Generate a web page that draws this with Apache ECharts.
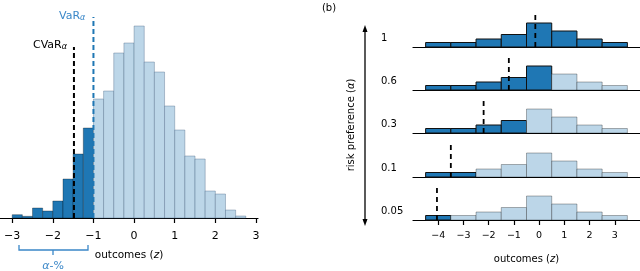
<!DOCTYPE html>
<html>
<head>
<meta charset="utf-8">
<script src="https://cdn.jsdelivr.net/npm/echarts@6/dist/echarts.min.js"></script>
<style>html,body{margin:0;padding:0;background:#fff}#c{width:640px;height:271px}</style>
</head>
<body>
<div id="c"></div>
<script>
// ---- Data (left panel: histogram of outcomes) ----
const leftBinStart = -3;
const leftBinWidth = 0.25;
const leftCounts = [3.3, 1.7, 10, 7, 17, 39, 64, 90, 119, 127, 165, 175, 192, 156, 146, 112, 88, 62, 59, 27, 24, 8, 2];
const leftVaR = -1;
const leftCVaR = -1.48;
const leftVaRHeight = 201;
const leftCVaRHeight = 171;
const leftTicks = [-3, -2, -1, 0, 1, 2, 3];

// ---- Data (right panel: risk preference rows) ----
const rightBinCenters = [-4, -3, -2, -1, 0, 1, 2, 3];
const rightCounts = [4.5, 4.5, 8, 12.5, 24, 16, 8, 4.5];
const rowLabels = ['1', '0.6', '0.3', '0.1', '0.05'];
const rowMarker = [-0.15, -1.2, -2.2, -3.5, -4.05];
const rowDarkBins = [8, 5, 4, 2, 1];
const rowMarkerHeight = 35;
const rightTicks = [-4, -3, -2, -1, 0, 1, 2, 3];

const DARK = '#1f77b4';
const LIGHT = '#bcd6e8';
const FONT = 'DejaVu Sans';
const minus = v => String(v).replace('-', '\u2212');

const chart = echarts.init(document.getElementById('c'), null, {renderer: 'canvas'});

function rectItem(darkStroke, lightStroke, lw) {
  return function (params, api) {
    const x0 = api.value(0), x1 = api.value(1), h = api.value(2), dark = api.value(3);
    const p0 = api.coord([x0, 0]);
    const p1 = api.coord([x1, h]);
    return {
      type: 'rect',
      shape: {x: p0[0], y: p1[1], width: p1[0] - p0[0], height: p0[1] - p1[1]},
      style: {fill: dark ? DARK : LIGHT, stroke: dark ? darkStroke : lightStroke, lineWidth: lw}
    };
  };
}

const grids = [{left: 0, width: 258, top: 10, height: 208}];
const xAxes = [{
  gridIndex: 0, type: 'value', min: -3.3, max: 3.05,
  axisLine: {show: true, lineStyle: {color: '#000', width: 1.2}},
  axisTick: {show: true, customValues: leftTicks, length: 5, lineStyle: {color: '#000', width: 1.2}},
  axisLabel: {customValues: leftTicks, formatter: minus, color: '#000', fontSize: 11, fontFamily: FONT, margin: 13},
  splitLine: {show: false},
  name: '{n|outcomes (}{i|z}{n|)}', nameLocation: 'middle', nameGap: 32,
  nameTextStyle: {rich: {n: {fontSize: 10.5, fontFamily: FONT, color: '#000'}, i: {fontSize: 10.5, fontFamily: FONT, fontStyle: 'italic', color: '#000'}}}
}];
const yAxes = [{gridIndex: 0, type: 'value', min: 0, max: 208, show: false}];
const series = [];

series.push({
  type: 'custom', xAxisIndex: 0, yAxisIndex: 0, z: 2,
  renderItem: rectItem('rgba(0,0,0,0.3)', 'rgba(60,90,120,0.35)', 1),
  data: leftCounts.map((c, i) => {
    const x0 = leftBinStart + i * leftBinWidth;
    const x1 = x0 + leftBinWidth;
    return [x0, x1, c, x1 <= leftVaR + 1e-9 ? 1 : 0];
  })
});
series.push({
  type: 'line', xAxisIndex: 0, yAxisIndex: 0, z: 5, symbol: 'none', silent: true,
  data: [[leftVaR, 0], [leftVaR, leftVaRHeight]],
  lineStyle: {color: '#1f77b4', width: 2, type: [5, 3]}
});
series.push({
  type: 'line', xAxisIndex: 0, yAxisIndex: 0, z: 5, symbol: 'none', silent: true,
  data: [[leftCVaR, 0], [leftCVaR, leftCVaRHeight]],
  lineStyle: {color: '#000', width: 2, type: [5, 3]}
});

const baselines = [47, 90, 133, 177, 220];
rowLabels.forEach((lab, r) => {
  const gi = r + 1;
  const last = r === rowLabels.length - 1;
  grids.push({left: 413, width: 227, top: baselines[r] - 36, height: 36});
  const ax = {
    gridIndex: gi, type: 'value', min: -5, max: 4,
    axisLine: {show: true, lineStyle: {color: '#000', width: 1.2}},
    axisTick: {show: last, customValues: rightTicks, length: 5, lineStyle: {color: '#000', width: 1.2}},
    axisLabel: {show: last, customValues: rightTicks, formatter: minus, color: '#000', fontSize: 9.5, fontFamily: FONT, margin: 11},
    splitLine: {show: false}
  };
  if (last) {
    ax.name = '{n|outcomes (}{i|z}{n|)}';
    ax.nameLocation = 'middle';
    ax.nameGap = 34;
    ax.nameTextStyle = {rich: {n: {fontSize: 10, fontFamily: FONT, color: '#000'}, i: {fontSize: 10, fontFamily: FONT, fontStyle: 'italic', color: '#000'}}};
  }
  xAxes.push(ax);
  yAxes.push({gridIndex: gi, type: 'value', min: 0, max: 36, show: false});
  series.push({
    type: 'custom', xAxisIndex: gi, yAxisIndex: gi, z: 2,
    renderItem: rectItem('#111', 'rgba(0,0,0,0.3)', 1),
    data: rightBinCenters.map((c, i) => [c - 0.5, c + 0.5, rightCounts[i], i < rowDarkBins[r] ? 1 : 0])
  });
  series.push({
    type: 'line', xAxisIndex: gi, yAxisIndex: gi, z: 5, symbol: 'none', silent: true,
    data: [[rowMarker[r], 0], [rowMarker[r], rowMarkerHeight]],
    lineStyle: {color: '#000', width: 1.8, type: [5, 4]}
  });
});

const subRich = (color) => ({
  a: {fontSize: 11, fontFamily: FONT, fill: color, verticalAlign: 'bottom', lineHeight: 14},
  s: {fontSize: 8, fontFamily: FONT, fontStyle: 'italic', fill: color, verticalAlign: 'bottom', lineHeight: 10, padding: [0, 0, 0, 0]}
});

const graphic = [
  // VaR / CVaR labels
  {type: 'text', left: 59, top: 11, style: {text: '{a|VaR}{s|α}', rich: subRich('#3a87c8')}},
  {type: 'text', left: 33, top: 40, style: {text: '{a|CVaR}{s|α}', rich: subRich('#000')}},
  // alpha-% bracket
  {type: 'polyline', shape: {points: [[19, 245], [19, 250], [88, 250], [88, 245]]}, style: {stroke: '#3a87c8', lineWidth: 1.3, fill: null}},
  {type: 'line', shape: {x1: 53, y1: 250, x2: 53, y2: 255}, style: {stroke: '#3a87c8', lineWidth: 1.3}},
  {type: 'text', x: 53, y: 266, style: {text: '{i|α}{n|-%}', align: 'center', verticalAlign: 'middle', rich: {i: {fontSize: 11, fontFamily: FONT, fontStyle: 'italic', fill: '#3a87c8'}, n: {fontSize: 11, fontFamily: FONT, fill: '#3a87c8'}}}},
  // (b)
  {type: 'text', x: 329, y: 8, style: {text: '(b)', align: 'center', verticalAlign: 'middle', fontSize: 10, fontFamily: FONT, fill: '#000'}},
  // arrow
  {type: 'line', shape: {x1: 365, y1: 30, x2: 365, y2: 221}, style: {stroke: '#000', lineWidth: 1.3}},
  {type: 'polygon', shape: {points: [[365, 25], [362.5, 32], [367.5, 32]]}, style: {fill: '#000'}},
  {type: 'polygon', shape: {points: [[365, 226], [362.5, 219], [367.5, 219]]}, style: {fill: '#000'}},
  {type: 'text', x: 351, y: 125, rotation: Math.PI / 2, style: {text: '{n|risk preference (}{i|α}{n|)}', align: 'center', verticalAlign: 'middle', rich: {n: {fontSize: 10, fontFamily: FONT, fill: '#000'}, i: {fontSize: 10, fontFamily: FONT, fontStyle: 'italic', fill: '#000'}}}}
];
rowLabels.forEach((lab, r) => {
  graphic.push({type: 'text', x: 381, y: baselines[r] - 9, style: {text: lab, align: 'left', verticalAlign: 'middle', fontSize: 10, fontFamily: FONT, fill: '#000'}});
});

chart.setOption({
  animation: false,
  backgroundColor: '#fff',
  grid: grids,
  xAxis: xAxes,
  yAxis: yAxes,
  series: series,
  graphic: graphic
});
</script>
</body>
</html>
